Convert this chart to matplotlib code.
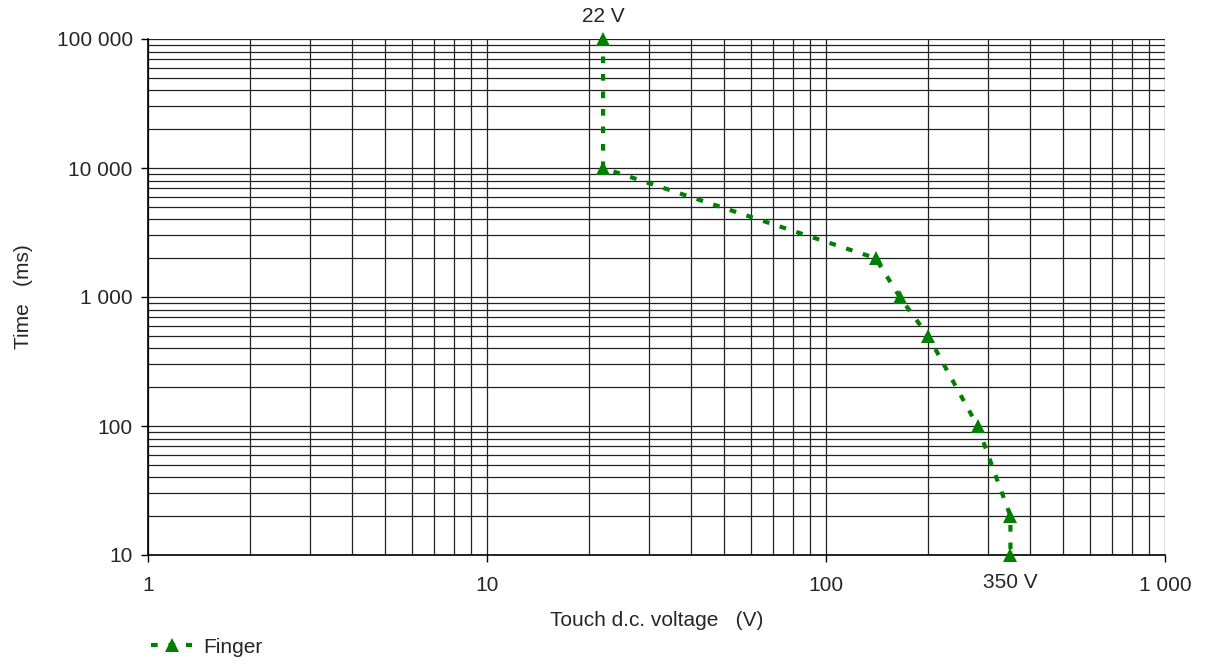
import matplotlib
matplotlib.use("Agg")
import matplotlib.pyplot as plt
from matplotlib.ticker import FixedLocator, LogLocator, NullFormatter

plt.rcParams['font.family'] = ['Liberation Sans', 'DejaVu Sans']

voltage = [22, 22, 140, 165, 200, 280, 350, 350]
time_ms = [100000, 10000, 2000, 1000, 500, 100, 20, 10]
series_name = "Finger"
x_ticks = [1, 10, 100, 1000]
x_tick_labels = ["1", "10", "100", "1 000"]
y_ticks = [10, 100, 1000, 10000, 100000]
y_tick_labels = ["10", "100", "1 000", "10 000", "100 000"]
annot_top = "22 V"
annot_bottom = "350 V"

text_color = "#262626"
green = "#008000"
fs = 15

fig = plt.figure(figsize=(12.07, 6.70), dpi=100)
ax = fig.add_axes([148/1207, 1-555/670, (1165-148)/1207, (555-39)/670])
ax.set_xscale('log')
ax.set_yscale('log')
ax.set_xlim(1, 1000)
ax.set_ylim(10, 100000)

ax.xaxis.set_major_locator(FixedLocator(x_ticks))
ax.set_xticklabels(x_tick_labels)
ax.yaxis.set_major_locator(FixedLocator(y_ticks))
ax.set_yticklabels(y_tick_labels)
ax.xaxis.set_minor_locator(LogLocator(base=10, subs=range(2, 10)))
ax.yaxis.set_minor_locator(LogLocator(base=10, subs=range(2, 10)))
ax.xaxis.set_minor_formatter(NullFormatter())
ax.yaxis.set_minor_formatter(NullFormatter())

ax.grid(True, which='both', color='#222222', linewidth=0.9)
ax.set_axisbelow(True)
for s in ['top', 'right']:
    ax.spines[s].set_visible(False)
for s in ['left', 'bottom']:
    ax.spines[s].set_color('black')
    ax.spines[s].set_linewidth(1.2)
ax.tick_params(which='major', direction='out', length=5, width=1, color='black',
               labelsize=fs, labelcolor=text_color)
ax.tick_params(axis='x', which='major', pad=10)
ax.tick_params(axis='y', which='major', pad=6)
ax.tick_params(which='minor', length=0)

line, = ax.plot(voltage, time_ms, color=green, linestyle=(0, (1.6, 2.6)), linewidth=3,
                marker='^', markersize=9.5, markeredgewidth=0, clip_on=False, zorder=5,
                label=series_name)

ax.annotate(annot_top, xy=(voltage[0], time_ms[0]), xytext=(0, 16), textcoords='offset points',
            ha='center', va='center', fontsize=fs, color=text_color, annotation_clip=False)
ax.annotate(annot_bottom, xy=(voltage[-1], time_ms[-1]), xytext=(0, -20), textcoords='offset points',
            ha='center', va='center', fontsize=fs, color=text_color, annotation_clip=False)

ax.set_xlabel("Touch d.c. voltage   (V)", fontsize=fs, color=text_color, labelpad=12)
ax.set_ylabel("Time   (ms)", fontsize=fs, color=text_color, labelpad=17)

fig.legend(handles=[line], loc='lower left', bbox_to_anchor=(132/1207, -0.008), frameon=False,
           fontsize=fs, labelcolor=text_color, handlelength=2.0, handletextpad=0.5)

fig.savefig("out.png", dpi=100)
